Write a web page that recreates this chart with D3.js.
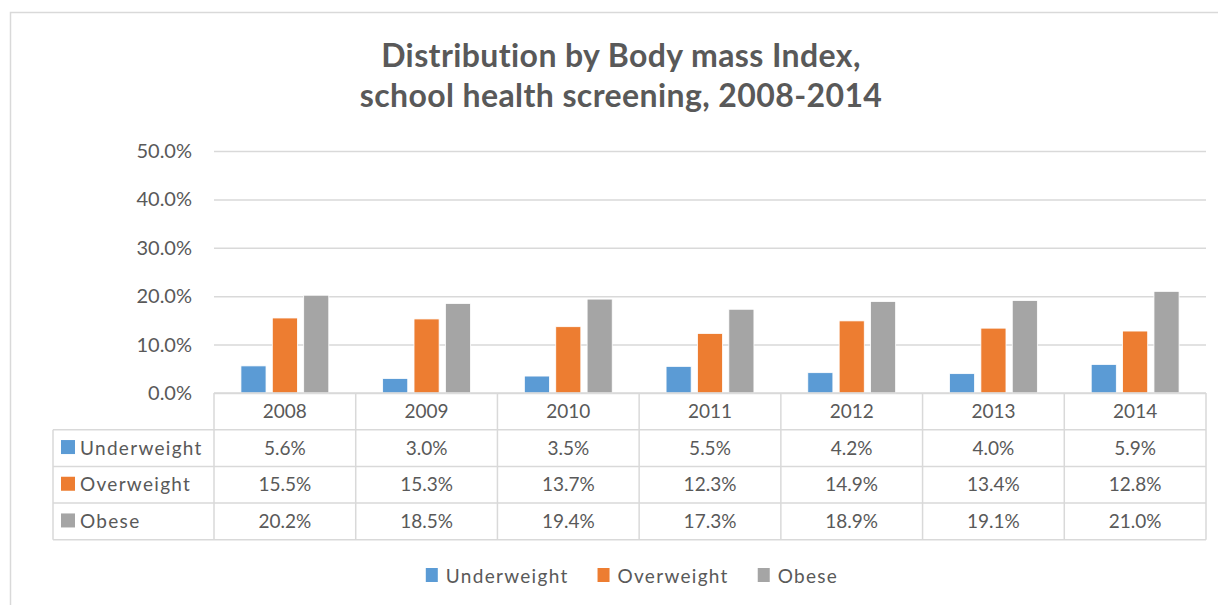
<!DOCTYPE html>
<html>
<head>
<meta charset="utf-8">
<script src="https://cdn.jsdelivr.net/npm/d3@7"></script>
<style>
  body { margin: 0; background: #fff; }
  text { font-family: Lato, "Open Sans", sans-serif; fill: #595959; font-variant-ligatures: none; }
</style>
</head>
<body>
<svg id="chart" width="1218" height="605"></svg>
<script>
const years = ["2008", "2009", "2010", "2011", "2012", "2013", "2014"];
const seriesNames = ["Underweight", "Overweight", "Obese"];
const underweight = [0.056, 0.030, 0.035, 0.055, 0.042, 0.040, 0.059];
const overweight = [0.155, 0.153, 0.137, 0.123, 0.149, 0.134, 0.128];
const obese = [0.202, 0.185, 0.194, 0.173, 0.189, 0.191, 0.210];
const yTicks = [0, 0.1, 0.2, 0.3, 0.4, 0.5];
const colors = ["#5b9bd5", "#ed7d31", "#a5a5a5"];

const seriesValues = [underweight, overweight, obese];
const series = seriesNames.map((name, i) => ({ name, values: seriesValues[i], color: colors[i] }));

const svg = d3.select("#chart");
const margin = { left: 214, right: 12, top: 151, plotBottom: 393 };
const width = 1218;
const pct = d3.format(".1%");
const gridColor = "#d9d9d9";

// outer chart border
svg.append("rect")
  .attr("x", 10.5).attr("y", 12.5)
  .attr("width", 1300).attr("height", 700)
  .attr("fill", "none").attr("stroke", gridColor).attr("stroke-width", 1.5);

// title
const title = svg.append("text")
  .attr("text-anchor", "middle")
  .attr("font-weight", "bold")
  .attr("font-size", 32)
  .attr("letter-spacing", 0.4);
title.append("tspan").attr("x", 621).attr("y", 67).text("Distribution by Body mass Index,");
title.append("tspan").attr("x", 621).attr("y", 107).text("school health screening, 2008-2014");

const x = d3.scaleBand()
  .domain(years)
  .range([margin.left, width - margin.right]);

const y = d3.scaleLinear()
  .domain([0, 0.5])
  .range([margin.plotBottom, margin.top]);

const groupW = x.bandwidth() * 0.62;
const x1 = d3.scaleBand()
  .domain(seriesNames)
  .range([0, groupW])
  .paddingInner(0.2);

// y axis with gridlines
const yAxis = svg.append("g")
  .attr("transform", `translate(${margin.left},0)`)
  .call(d3.axisLeft(y).tickValues(yTicks).tickFormat(pct)
    .tickSize(-(width - margin.right - margin.left)).tickPadding(22));
yAxis.select(".domain").remove();
yAxis.selectAll(".tick line").attr("stroke", gridColor).attr("stroke-width", 1.5);
yAxis.selectAll(".tick text")
  .attr("font-size", 20)
  .attr("fill", "#595959")
  .attr("font-family", "Lato, sans-serif");

// bars
const groups = svg.append("g")
  .selectAll("g")
  .data(series)
  .join("g")
  .attr("fill", (d) => d.color);

groups.selectAll("rect")
  .data((s) => s.values.map((v, i) => ({ name: s.name, year: years[i], v })))
  .join("rect")
  .attr("x", (d) => x(d.year) + (x.bandwidth() - groupW) / 2 + x1(d.name))
  .attr("width", x1.bandwidth())
  .attr("y", (d) => y(d.v))
  .attr("height", (d) => y(0) - y(d.v))
  .attr("stroke", "#fff")
  .attr("stroke-width", 0.8);

// data table
const rowH = 36.7;
const tableTop = margin.plotBottom;
const tableLeft = 53;
const table = svg.append("g")
  .attr("fill", "none")
  .attr("stroke", gridColor)
  .attr("stroke-width", 1.5);

const tableRight = width - margin.right;
const rowsBottom = tableTop + rowH * 4;
// horizontal lines
table.append("line").attr("x1", margin.left).attr("x2", tableRight)
  .attr("y1", tableTop).attr("y2", tableTop);
d3.range(1, 5).forEach((r) => {
  table.append("line").attr("x1", tableLeft).attr("x2", tableRight)
    .attr("y1", tableTop + rowH * r).attr("y2", tableTop + rowH * r);
});
// vertical lines
table.append("line").attr("x1", tableLeft).attr("x2", tableLeft)
  .attr("y1", tableTop + rowH).attr("y2", rowsBottom);
years.concat(["end"]).forEach((yr) => {
  const xx = yr === "end" ? tableRight : x(yr);
  table.append("line").attr("x1", xx).attr("x2", xx)
    .attr("y1", tableTop).attr("y2", rowsBottom);
});

// header (years)
svg.append("g")
  .selectAll("text")
  .data(years)
  .join("text")
  .attr("x", (d) => x(d) + x.bandwidth() / 2)
  .attr("y", tableTop + rowH / 2)
  .attr("dy", "0.35em")
  .attr("text-anchor", "middle")
  .attr("font-size", 19)
  .text((d) => d);

// rows
series.forEach((s, r) => {
  const cy = tableTop + rowH * (r + 1) + rowH / 2;
  const row = svg.append("g");
  row.append("rect")
    .attr("x", 61).attr("y", cy - 8)
    .attr("width", 14).attr("height", 14)
    .attr("fill", s.color);
  row.append("text")
    .attr("x", 80).attr("y", cy).attr("dy", "0.35em")
    .attr("font-size", 19)
    .attr("letter-spacing", 1.3)
    .text(s.name);
  row.selectAll(".val")
    .data(s.values)
    .join("text")
    .attr("class", "val")
    .attr("x", (d, i) => x(years[i]) + x.bandwidth() / 2)
    .attr("y", cy).attr("dy", "0.35em")
    .attr("text-anchor", "middle")
    .attr("font-size", 19)
    .text((d) => pct(d));
});

// legend
const legend = svg.append("g");
const items = legend.selectAll("g")
  .data(series)
  .join("g");
items.append("rect")
  .attr("y", 568).attr("width", 12).attr("height", 14)
  .attr("fill", (d) => d.color);
items.append("text")
  .attr("x", 20).attr("y", 576).attr("dy", "0.35em")
  .attr("font-size", 19)
  .attr("letter-spacing", 1.3)
  .text((d) => d.name);
let cx = 0;
items.each(function () {
  const w = d3.select(this).select("text").node().getComputedTextLength();
  d3.select(this).attr("transform", `translate(${cx},0)`);
  cx += 20 + w + 29;
});
const legendW = cx - 29;
legend.attr("transform", `translate(${632 - legendW / 2},0)`);
</script>
</body>
</html>
